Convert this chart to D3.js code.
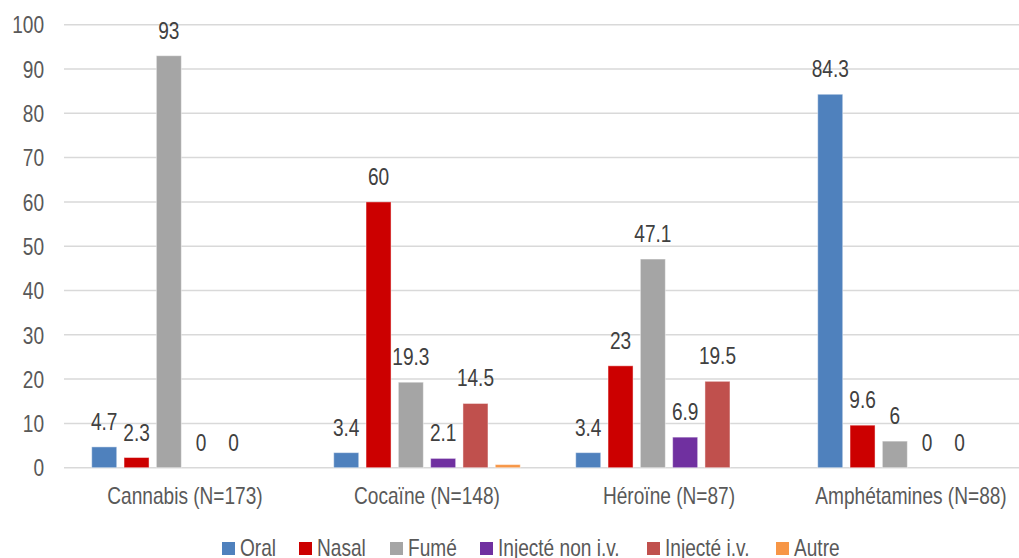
<!DOCTYPE html>
<html>
<head>
<meta charset="utf-8">
<script src="https://cdn.jsdelivr.net/npm/d3@7"></script>
<style>
  html, body { margin: 0; padding: 0; background: #fff; overflow: hidden; }
  svg text { font-family: "Liberation Sans Narrow", "Arial Narrow", "Liberation Sans", sans-serif; font-size: 23px; }
</style>
</head>
<body>
<svg id="chart" width="1019" height="558"></svg>
<script>
// Substances (x categories)
const categories = ["Cannabis (N=173)", "Cocaïne (N=148)", "Héroïne (N=87)", "Amphétamines (N=88)"];

// Routes of administration (series) and their percentages per substance
const seriesNames = ["Oral", "Nasal", "Fumé", "Injecté non i.v.", "Injecté i.v.", "Autre"];
const oral        = [4.7, 3.4, 3.4, 84.3];
const nasal       = [2.3, 60, 23, 9.6];
const fume        = [93, 19.3, 47.1, 6];
const injNonIv    = [0, 2.1, 6.9, 0];
const injIv       = [0, 14.5, 19.5, 0];
const autre       = [null, 0.7, null, null];

// Which series carry value labels
const labelled    = [true, true, true, true, true, false];

const yTicks = [0, 10, 20, 30, 40, 50, 60, 70, 80, 90, 100];
const colors = ["#4f81bd", "#cc0000", "#a5a5a5", "#7030a0", "#c0504d", "#f79646"];

const seriesValues = [oral, nasal, fume, injNonIv, injIv, autre];

// Condensed lettering: horizontal squeeze applied to every label
const SQUEEZE = 0.83;

const svg = d3.select("#chart");
const margin = { left: 64, top: 24.7, bottom: 467.7 };
const plotRight = 64 + 242 * 4;

const x0 = d3.scaleBand().domain(categories).range([margin.left, plotRight]).paddingInner(0).paddingOuter(0);
const x1 = d3.scaleBand().domain(seriesNames).range([0, x0.bandwidth()]).paddingInner(0.226).paddingOuter(0.858);
const y = d3.scaleLinear().domain([0, 100]).range([margin.bottom, margin.top]);

// Place a text at (x, y) with the horizontal squeeze
function squeezed(sel, x, y) {
  sel.attr("x", null).attr("y", null)
    .attr("transform", function (d, i) {
      return `translate(${x(d, i)},${y(d, i)}) scale(${SQUEEZE},1)`;
    });
}

// Horizontal gridlines
svg.append("g")
  .selectAll("line")
  .data(yTicks)
  .join("line")
  .attr("x1", margin.left)
  .attr("x2", plotRight)
  .attr("y1", d => y(d))
  .attr("y2", d => y(d))
  .attr("stroke", "#d9d9d9")
  .attr("stroke-width", 1.5);

// Y axis labels
const yAxis = d3.axisLeft(y).tickValues(yTicks).tickSize(0).tickPadding(0);
const yg = svg.append("g").attr("transform", `translate(${margin.left - 20},0)`).call(yAxis);
yg.select(".domain").remove();
yg.attr("font-size", null).attr("font-family", null);
yg.selectAll("text")
  .attr("fill", "#595959")
  .attr("dy", "0.36em")
  .call(squeezed, () => 0, () => 0);

// X axis labels
const xAxis = d3.axisBottom(x0).tickSize(0).tickPadding(0);
const xg = svg.append("g").attr("transform", `translate(0,${margin.bottom})`).call(xAxis);
xg.select(".domain").remove();
xg.attr("font-size", null).attr("font-family", null);
xg.selectAll("text")
  .attr("fill", "#595959")
  .attr("dy", 0)
  .call(squeezed, () => 0, () => 36);

// Flatten to bar records
const bars = [];
categories.forEach((c, ci) => {
  seriesNames.forEach((s, si) => {
    const v = seriesValues[si][ci];
    if (v !== null && v !== undefined) bars.push({ cat: c, series: s, si, value: v });
  });
});

svg.append("g")
  .selectAll("rect")
  .data(bars.filter(d => d.value > 0))
  .join("rect")
  .attr("x", d => x0(d.cat) + x1(d.series))
  .attr("width", x1.bandwidth())
  .attr("y", d => y(d.value))
  .attr("height", d => y(0) - y(d.value))
  .attr("fill", d => colors[d.si])
  .attr("stroke", "rgba(255,255,255,0.45)")
  .attr("stroke-width", 1);

// Value labels
svg.append("g")
  .selectAll("text")
  .data(bars.filter(d => labelled[d.si]))
  .join("text")
  .attr("text-anchor", "middle")
  .attr("fill", "#404040")
  .text(d => d.value)
  .call(squeezed,
    d => x0(d.cat) + x1(d.series) + x1.bandwidth() / 2,
    d => y(d.value) - 17);

// Legend
const legendX = [222, 299, 390, 480, 647, 776];
const lg = svg.append("g").selectAll("g")
  .data(seriesNames)
  .join("g")
  .attr("transform", (d, i) => `translate(${legendX[i]},542)`);
lg.append("rect").attr("width", 13).attr("height", 13).attr("fill", (d, i) => colors[i]);
lg.append("text")
  .attr("fill", "#595959")
  .text(d => d)
  .call(squeezed, () => 18, () => 13.5);
</script>
</body>
</html>
